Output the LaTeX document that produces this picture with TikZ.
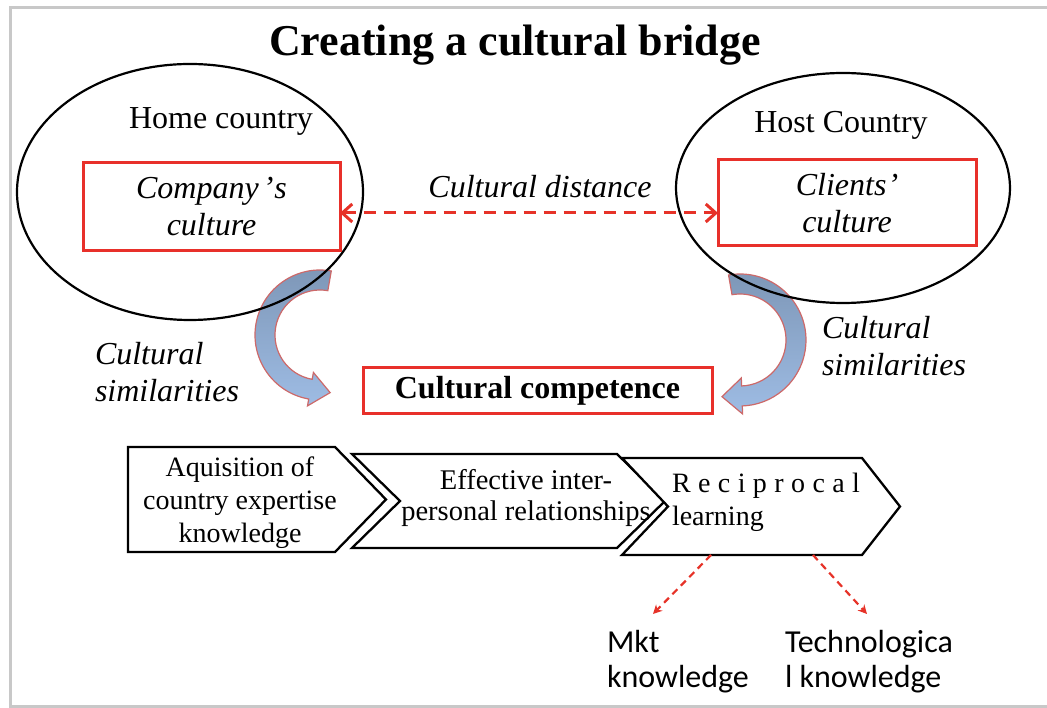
\documentclass[tikz,border=0pt]{standalone}
\usepackage{fontspec}
\setmainfont{Liberation Serif}
\newfontfamily\carlito{Carlito}
\usetikzlibrary{shapes.geometric,arrows.meta}
\definecolor{redbox}{RGB}{232,48,42}
\definecolor{framegray}{RGB}{200,200,200}
\definecolor{bandtop}{RGB}{125,150,182}
\definecolor{bandbot}{RGB}{158,188,228}
\definecolor{bandline}{RGB}{205,105,105}
\definecolor{dashred}{RGB}{230,50,40}
\begin{document}
\begin{tikzpicture}[x=1pt,y=1pt,
 every node/.style={inner sep=0pt, outer sep=0pt},
 country/.style={draw=black, line width=2.2pt, ellipse},
 redrect/.style={draw=redbox, line width=3pt, fill=white},
 lbl/.style={font=\fontsize{32}{37}\selectfont, align=center},
 itl/.style={font=\fontsize{32}{37}\selectfont\itshape, align=center},
 chev/.style={draw=black, line width=2.3pt, fill=white, line join=miter},
 chevtext/.style={font=\fontsize{28}{33}\selectfont, align=center},
 kn/.style={font=\carlito\fontsize{32}{35}\selectfont, align=left},
 band/.style={top color=bandtop, bottom color=bandbot, draw=bandline, line width=1.2pt},
 bigdash/.style={draw=dashred, line width=3pt, dash pattern=on 12pt off 8pt, {Straight Barb[length=10pt,width=18pt]}-{Straight Barb[length=10pt,width=18pt]}},
 smalldash/.style={draw=dashred, line width=2.2pt, dash pattern=on 7pt off 5pt, -{Stealth[length=9pt,width=9pt]}}
]
\useasboundingbox (0,0) rectangle (1047,707);
\draw[framegray, line width=3pt] (1047,699) -- (10,699) -- (10,1) -- (1047,1);

% curved band arrows (drawn under the ellipses)
\begin{scope}[shift={(320,372)}]
\path[band] (80:65pt) arc[start angle=80,end angle=260,radius=65pt] -- (260:72pt) -- (10.15,-57.63) -- (260:38pt) -- (260:45pt) arc[start angle=260,end angle=80,radius=45pt] -- cycle;
\end{scope}
\begin{scope}[shift={(740,367)}]
\path[band] (100:66pt) arc[start angle=100,end angle=-88,radius=66pt] -- (-88:74pt) -- (-18.03,-56.67) -- (-88:38pt) -- (-88:46pt) arc[start angle=-88,end angle=100,radius=46pt] -- cycle;
\end{scope}

\node[font=\fontsize{44}{50}\selectfont\bfseries] (title) at (515,662) {Creating a cultural bridge};

\node[country, minimum width=346pt, minimum height=256pt] (home) at (190,515) {};
\node[country, minimum width=334pt, minimum height=230pt] (host) at (843,519) {};
\node[lbl] (homet) at (221,586) {Home country};
\node[lbl] (hostt) at (841,582) {Host Country};

\node[redrect, minimum width=257pt, minimum height=88pt, itl] (comp) at (211.5,500) {Company\kern4pt’\kern1pt s\\culture};
\node[redrect, minimum width=258pt, minimum height=86pt, itl] (cli) at (847,504) {Clients\kern1pt’\\culture};
\node[itl] (dist) at (540,520) {Cultural distance};
\draw[bigdash] ([yshift=-6pt]comp.east) -- ([yshift=-10pt]cli.west);

\node[redrect, minimum width=349pt, minimum height=46pt, font=\fontsize{32}{37}\selectfont\bfseries] (compet) at (537.5,316) {Cultural competence};

\node[itl, align=left, anchor=west] (sim1) at (95,335) {Cultural\\similarities};
\node[itl, align=left, anchor=west] (sim2) at (822,361) {Cultural\\similarities};

% chevrons
\draw[chev] (128,260) -- (335,260) -- (386,207.5) -- (335,155) -- (128,155) -- cycle;
\draw[chev] (352,253) -- (617,253) -- (665,206) -- (617,159) -- (352,159) -- (400,206) -- cycle;
\draw[chev] (622,249) -- (862,249) -- (900,200.5) -- (862,152) -- (622,152) -- (668,200.5) -- cycle;
\node[chevtext] (t1) at (240,204) {Aquisition of\\country expertise\\knowledge};
\node[chevtext, font=\fontsize{28.5}{31}\selectfont] (t2) at (526,209) {Effective inter-\\personal relationships};
\node[chevtext, align=left, anchor=west] (t3) at (672,205) {\makebox[188pt][s]{R e c i p r o c a l}\\learning};

\node[kn, anchor=west] (mkt) at (607,45) {Mkt\\knowledge};
\node[kn, anchor=west] (tech) at (785,45) {Technologica\\l knowledge};
\coordinate (r1) at (711,152);
\coordinate (r2) at (813,152);
\coordinate (m1) at (653,93);
\coordinate (m2) at (867,93);
\draw[smalldash] (r1) -- (m1);
\draw[smalldash] (r2) -- (m2);
\end{tikzpicture}
\end{document}
